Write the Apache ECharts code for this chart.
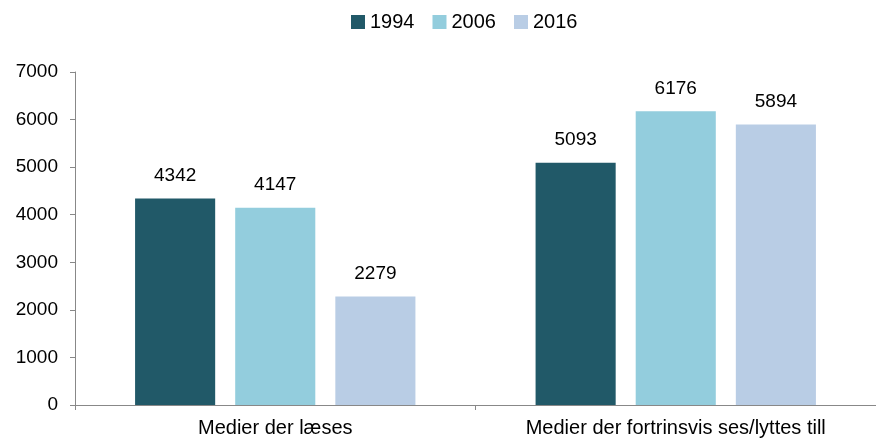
<!DOCTYPE html>
<html>
<head>
<meta charset="utf-8">
<script src="https://cdn.jsdelivr.net/npm/echarts@6/dist/echarts.min.js"></script>
<style>
  html, body { margin: 0; padding: 0; background: #fff; }
  #main { width: 876px; height: 438px; }
</style>
</head>
<body>
<div id="main"></div>
<script>
const categories = ['Medier der læses', 'Medier der fortrinsvis ses/lyttes till']
const years = ['1994', '2006', '2016']
const values1994 = [4342, 5093]
const values2006 = [4147, 6176]
const values2016 = [2279, 5894]
const yTicks = [0, 1000, 2000, 3000, 4000, 5000, 6000, 7000]

const colors = ['#215968', '#93cddd', '#b9cde5']
const seriesData = [values1994, values2006, values2016]
const font = 'Liberation Sans, Arial, sans-serif'

const chart = echarts.init(document.getElementById('main'))

chart.setOption({
    animation: false,
    textStyle: { fontFamily: font },
    legend: {
        top: 7,
        left: 346,
        itemWidth: 14,
        itemHeight: 14,
        itemGap: 18,
        icon: 'rect',
        textStyle: { color: '#000', fontSize: 20, fontFamily: font },
        data: years,
    },
    grid: {
        top: 72,
        bottom: 33,
        left: 75,
        right: -5,
        containLabel: false,
    },
    xAxis: {
        type: 'category',
        data: categories,
        axisLine: { lineStyle: { color: '#888', width: 1 } },
        axisTick: { show: true, length: 5, lineStyle: { color: '#888' } },
        axisLabel: { color: '#000', fontSize: 20, margin: 13, fontFamily: font },
    },
    yAxis: {
        type: 'value',
        min: yTicks[0],
        max: yTicks[yTicks.length - 1],
        interval: 1000,
        splitLine: { show: false },
        axisLine: { show: true, lineStyle: { color: '#888', width: 1 } },
        axisTick: { show: true, length: 5, lineStyle: { color: '#888' } },
        axisLabel: {
            color: '#000',
            fontSize: 19,
            margin: 17,
            fontFamily: font,
            formatter: (v) => String(v),
        },
    },
    series: years.map((year, i) => ({
        name: year,
        type: 'bar',
        data: seriesData[i],
        barWidth: '20%',
        barGap: '25%',
        itemStyle: { color: colors[i] },
        label: {
            show: true,
            position: 'top',
            distance: 13,
            color: '#000',
            fontSize: 19,
            fontFamily: font,
        },
    })),
})
</script>
</body>
</html>
